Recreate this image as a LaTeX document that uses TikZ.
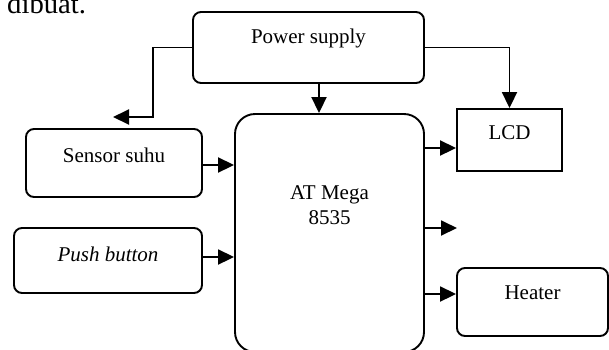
\documentclass[tikz,border=0pt]{standalone}
\usepackage{fontspec}
\setmainfont{Liberation Serif}
\usetikzlibrary{arrows.meta}
\begin{document}
\begin{tikzpicture}[x=1pt,y=-1pt,
  box/.style={draw,line width=1.9pt,rounded corners=8pt,inner sep=0pt},
  lbl/.style={font=\fontsize{21}{25}\selectfont,inner sep=0pt},
  arr/.style={line width=1.9pt,-{Triangle[length=16pt,width=15pt]}},
  ln/.style={line width=1.9pt}]
\useasboundingbox (0,0) rectangle (609,349);
\clip (0,0) rectangle (609,349);
\node[font=\fontsize{28.7}{34}\selectfont,inner sep=0pt,anchor=base west] (txt) at (7,13) {dibuat.};
% boxes
\node[box,minimum width=231pt,minimum height=71pt] (ps) at (308.5,47.5) {};
\node[lbl] (pst) at (308.5,38) {Power supply};
\node[box,rounded corners=20pt,minimum width=189pt,minimum height=238pt] (at) at (329.5,233) {};
\node[lbl,align=center] (att) at (329.5,205) {AT Mega\\8535};
\node[box,minimum width=176pt,minimum height=68pt] (ss) at (114,163) {};
\node[lbl] (sst) at (114,155) {Sensor suhu};
\node[box,minimum width=188pt,minimum height=65pt] (pb) at (108,260.5) {};
\node[lbl] (pbt) at (108,254) {\itshape Push button};
\node[box,rounded corners=0pt,minimum width=105pt,minimum height=62pt] (lcd) at (509.5,140) {};
\node[lbl] (lcdt) at (509.5,133) {LCD};
\node[box,minimum width=151pt,minimum height=68pt] (ht) at (532.5,302) {};
\node[lbl] (htt) at (532.5,293) {Heater};
% coordinates
\coordinate (k1) at (153,117);
\coordinate (sfree) at (113,117);
\coordinate (mfree) at (457,228);
\coordinate (lcdin) at ([yshift=-8pt]lcd.west);
\coordinate (htin) at ([yshift=8pt]ht.west);
% connectors
\draw[arr] (ps.west) -| (k1) -- (sfree);
\draw[arr] (ps.east) -| (lcd.north);
\draw[arr] ([xshift=10.5pt]ps.south) -- ([xshift=-10.5pt]at.north);
\draw[arr] ([yshift=-2pt]ss.east) -- ([yshift=-2pt]ss.east -| at.west);
\draw[arr] ([yshift=3.5pt]pb.east) -- ([yshift=3.5pt]pb.east -| at.west);
\draw[arr] (at.east |- lcdin) -- (lcdin);
\draw[arr] (at.east |- mfree) -- (mfree);
\draw[arr] (at.east |- htin) -- (htin);
\end{tikzpicture}
\end{document}
